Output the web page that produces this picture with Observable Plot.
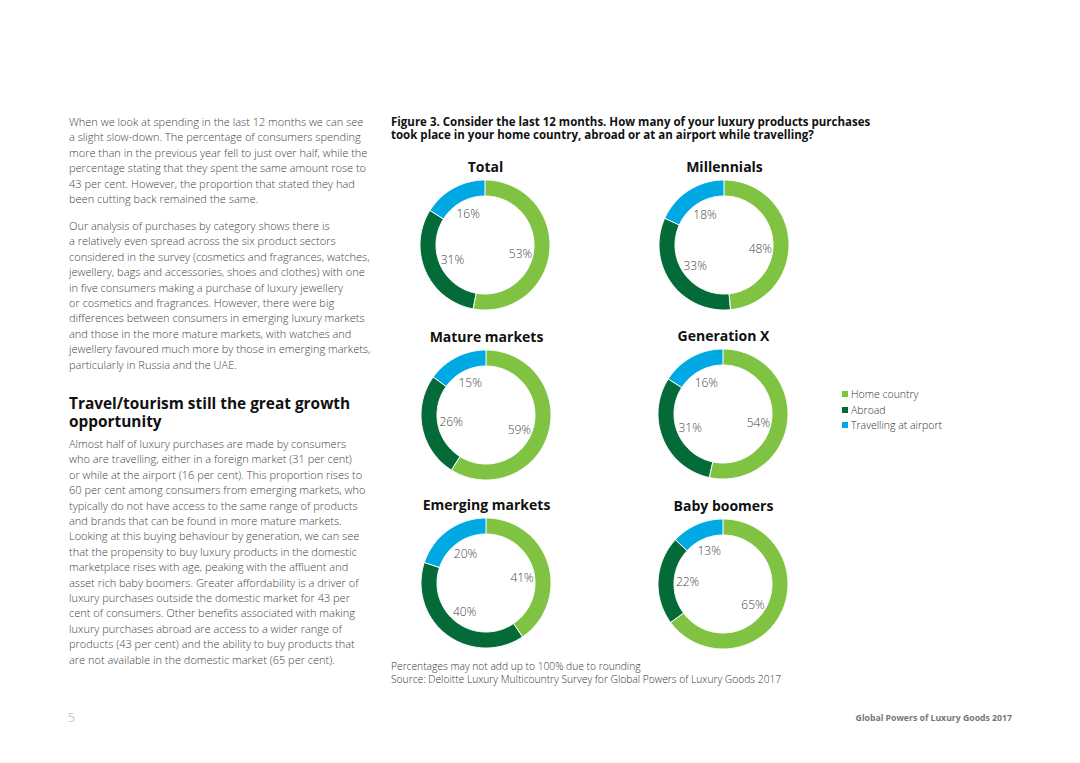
<!DOCTYPE html>
<html>
<head>
<meta charset="utf-8">
<script src="https://cdn.jsdelivr.net/npm/d3@7"></script>
<script src="https://cdn.jsdelivr.net/npm/@observablehq/plot@0.6"></script>
<style>
  html, body { margin: 0; padding: 0; background: #fff; }
  #page { position: relative; width: 1080px; height: 763px; overflow: hidden; font-family: "Open Sans", sans-serif; }
  .abs { position: absolute; white-space: nowrap; }
  .body { font-size: 11px; line-height: 15.4px; color: #444; font-weight: 300; }
  .h2 { font-size: 15.4px; line-height: 18px; font-weight: 700; color: #111; }
  .h2 div { height: 18px; }
  .ftitle { font-size: 11.5px; line-height: 13.4px; font-weight: 700; color: #111; }
  .foot { font-size: 10.25px; line-height: 13px; color: #333; font-weight: 300; }
  .legend { font-size: 10.5px; line-height: 15.5px; color: #333; font-weight: 300; }
  .legend .sw { display: inline-block; width: 6px; height: 6px; margin-right: 3px; vertical-align: 1px; }
</style>
</head>
<body>
<div id="page"></div>
<script>
// ---- data ----
const groups = ["Total", "Millennials", "Mature markets", "Generation X", "Emerging markets", "Baby boomers"];
const categories = ["Home country", "Abroad", "Travelling at airport"];
const homeCountry = [53, 48, 59, 54, 41, 65];
const abroad = [31, 33, 26, 31, 40, 22];
const airport = [16, 18, 15, 16, 20, 13];
const colors = ["#80C342", "#046A38", "#00A8E4"];

const para1 = [
  "When we look at spending in the last 12 months we can see",
  "a slight slow-down. The percentage of consumers spending",
  "more than in the previous year fell to just over half, while the",
  "percentage stating that they spent the same amount rose to",
  "43 per cent. However, the proportion that stated they had",
  "been cutting back remained the same."
];
const para2 = [
  "Our analysis of purchases by category shows there is",
  "a relatively even spread across the six product sectors",
  "considered in the survey (cosmetics and fragrances, watches,",
  "jewellery, bags and accessories, shoes and clothes) with one",
  "in five consumers making a purchase of luxury jewellery",
  "or cosmetics and fragrances. However, there were big",
  "differences between consumers in emerging luxury markets",
  "and those in the more mature markets, with watches and",
  "jewellery favoured much more by those in emerging markets,",
  "particularly in Russia and the UAE."
];
const heading = ["Travel/tourism still the great growth", "opportunity"];
const para3 = [
  "Almost half of luxury purchases are made by consumers",
  "who are travelling, either in a foreign market (31 per cent)",
  "or while at the airport (16 per cent). This proportion rises to",
  "60 per cent among consumers from emerging markets, who",
  "typically do not have access to the same range of products",
  "and brands that can be found in more mature markets.",
  "Looking at this buying behaviour by generation, we can see",
  "that the propensity to buy luxury products in the domestic",
  "marketplace rises with age, peaking with the affluent and",
  "asset rich baby boomers. Greater affordability is a driver of",
  "luxury purchases outside the domestic market for 43 per",
  "cent of consumers. Other benefits associated with making",
  "luxury purchases abroad are access to a wider range of",
  "products (43 per cent) and the ability to buy products that",
  "are not available in the domestic market (65 per cent)."
];
const figTitle = [
  "Figure 3. Consider the last 12 months. How many of your luxury products purchases",
  "took place in your home country, abroad or at an airport while travelling?"
];
const footnotes = [
  "Percentages may not add up to 100% due to rounding",
  "Source: Deloitte Luxury Multicountry Survey for Global Powers of Luxury Goods 2017"
];
const pageNumber = "5";
const runningTitle = "Global Powers of Luxury Goods 2017";

// ---- layout helpers ----
const page = document.getElementById("page");
function block(lines, cls, left, top, extra = {}) {
  const d = document.createElement("div");
  d.className = "abs " + cls;
  d.style.left = left + "px";
  d.style.top = top + "px";
  Object.assign(d.style, extra);
  lines.forEach(l => {
    const ln = document.createElement("div");
    ln.textContent = l;
    d.appendChild(ln);
  });
  page.appendChild(d);
  return d;
}

block(para1, "body", 69, 114);
block(para2, "body", 69, 218);
block(heading, "h2", 69, 395);
block(para3, "body", 69, 436);
block(figTitle, "ftitle", 391, 115);
block(footnotes, "foot", 391, 660);
block([pageNumber], "", 68, 709, {fontSize: "12px", color: "#aaa", fontWeight: 300});
block([runningTitle], "", 0, 712, {fontSize: "8.7px", color: "#777", fontWeight: 700, left: "auto", right: "68px"});

// legend
const leg = document.createElement("div");
leg.className = "abs legend";
leg.style.left = "842px";
leg.style.top = "387px";
categories.forEach((c, i) => {
  const row = document.createElement("div");
  const sw = document.createElement("span");
  sw.className = "sw";
  sw.style.background = colors[i];
  row.appendChild(sw);
  row.appendChild(document.createTextNode(c));
  leg.appendChild(row);
});
page.appendChild(leg);

// ---- donuts ----
const centers = [[485, 245], [724, 245], [486, 415], [723, 414], [486, 583], [723, 584]];
const R_OUT = 65, R_IN = 49, R_LAB = 36;
const W = 200, H = 170, CX = 100, CY = 100;

groups.forEach((g, gi) => {
  const vals = [homeCountry[gi], abroad[gi], airport[gi]];
  const total = d3.sum(vals);
  const ring = [];
  const labels = [];
  let start = 0;
  vals.forEach((v, ci) => {
    const frac = v / total;
    const n = Math.max(2, Math.ceil(frac * 240));
    for (let k = 0; k <= n; k++) {
      const a = 2 * Math.PI * (start + frac * k / n);
      ring.push({
        cat: categories[ci],
        xi: R_IN * Math.sin(a), yi: -R_IN * Math.cos(a),
        xo: R_OUT * Math.sin(a), yo: -R_OUT * Math.cos(a)
      });
    }
    // labels sit a little clockwise of the slice midpoint, as in the original
    const am = 2 * Math.PI * (start + frac / 2) + (ci === 0 ? 0.14 : 0);
    labels.push({x: R_LAB * Math.sin(am), y: -R_LAB * Math.cos(am), text: v + "%"});
    start += frac;
  });

  const chart = Plot.plot({
    width: W, height: H,
    margin: 0,
    style: {fontFamily: "Open Sans, sans-serif", background: "transparent", overflow: "visible"},
    x: {domain: [-CX, W - CX], range: [0, W], axis: null},
    y: {domain: [-CY, H - CY], range: [0, H], axis: null},
    color: {domain: categories, range: colors},
    marks: [
      Plot.area(ring, {x1: "xi", y1: "yi", x2: "xo", y2: "yo", z: "cat", fill: "cat", stroke: "white", strokeWidth: 1}),
      Plot.text(labels, {x: "x", y: "y", text: "text", fontSize: 12, fill: "#444", fontWeight: 300}),
      Plot.text([g], {frameAnchor: "top", dy: 17, text: d => d, fontSize: 14, fontWeight: 700, fill: "#111"})
    ]
  });
  const wrap = document.createElement("div");
  wrap.className = "abs";
  wrap.style.left = (centers[gi][0] - CX) + "px";
  wrap.style.top = (centers[gi][1] - CY) + "px";
  wrap.appendChild(chart);
  page.appendChild(wrap);
});
</script>
</body>
</html>
